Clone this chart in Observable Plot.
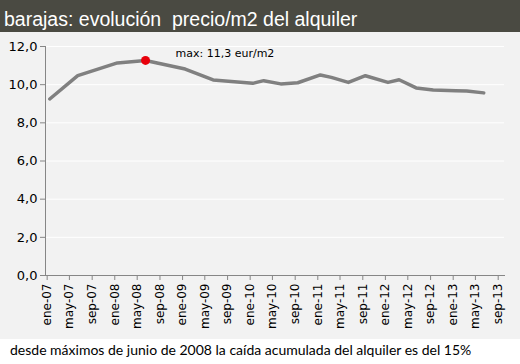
<!DOCTYPE html>
<html><head><meta charset="utf-8">
<script src="https://cdn.jsdelivr.net/npm/d3@7"></script>
<script src="https://cdn.jsdelivr.net/npm/@observablehq/plot@0.6"></script>
<style>
html,body{margin:0;padding:0;background:#fff;}
#wrap{width:520px;}
#title{background:#4a4a42;color:#fff;font-family:"Liberation Sans",Arial,sans-serif;font-size:19.5px;height:32px;line-height:26px;padding-top:6px;padding-left:4px;white-space:pre;box-sizing:border-box;}
#chart svg{display:block;}
#cap{font-family:Lato,sans-serif;font-size:14px;color:#000;padding-left:10px;height:26px;line-height:22px;box-sizing:border-box;padding-top:0px;overflow:visible;}
</style></head><body>
<div id="wrap">
<div id="title">barajas: evolución  precio/m2 del alquiler</div>
<div id="chart"></div>
<div id="cap">desde máximos de junio de 2008 la caída acumulada del alquiler es del 15%</div>
</div>
<script>
const months = ["2007-01","2007-06","2008-01","2008-06","2009-01","2009-06","2010-01","2010-03","2010-06","2010-09","2011-01","2011-03","2011-06","2011-09","2012-01","2012-03","2012-06","2012-09","2013-01","2013-03","2013-06"];
const prices = [9.25,10.47,11.14,11.27,10.82,10.25,10.07,10.21,10.04,10.10,10.51,10.38,10.12,10.47,10.12,10.26,9.83,9.72,9.68,9.67,9.57];
const tickMonths = ["2007-01","2007-05","2007-09","2008-01","2008-05","2008-09","2009-01","2009-05","2009-09","2010-01","2010-05","2010-09","2011-01","2011-05","2011-09","2012-01","2012-05","2012-09","2013-01","2013-05","2013-09"];
const tickLabels = ["ene-07","may-07","sep-07","ene-08","may-08","sep-08","ene-09","may-09","sep-09","ene-10","may-10","sep-10","ene-11","may-11","sep-11","ene-12","may-12","sep-12","ene-13","may-13","sep-13"];
const yTicks = [0,2,4,6,8,10,12];
const maxLabel = "max: 11,3 eur/m2";

const toDate = (s, day) => { const [y,m] = s.split("-").map(Number); return new Date(Date.UTC(y, m-1, day)); };
const data = months.map((m,i) => ({date: toDate(m,15), value: prices[i]}));
const maxPoint = data.filter(d => d.value === d3.max(prices));
const tickDates = tickMonths.map(m => toDate(m,1));
const labelOf = new Map(tickDates.map((d,i) => [+d, tickLabels[i]]));

const chart = Plot.plot({
  width: 520, height: 307,
  marginLeft: 45, marginRight: 16, marginTop: 14, marginBottom: 64,
  style: {background: "#f2f2f2", fontFamily: "DejaVu Sans, Verdana, sans-serif", color: "#000"},
  x: {type: "utc", domain: [new Date(Date.UTC(2006,11,23)), new Date(Date.UTC(2013,9,5))]},
  y: {domain: [0, 12]},
  marks: [
    Plot.gridY(yTicks.filter(d => d > 0), {stroke: "#ffffff", strokeOpacity: 1, strokeWidth: 1}),
    Plot.axisY({ticks: yTicks, tickFormat: d => d.toFixed(1).replace(".", ","), tickSize: 5, tickPadding: 3, fontSize: 13, label: null, stroke: "#868686"}),
    Plot.axisX({ticks: tickDates, tickFormat: d => labelOf.get(+d), tickRotate: -90, tickSize: 5, tickPadding: 3, fontSize: 12, label: null, stroke: "#868686"}),
    Plot.frame({anchor: "left", stroke: "#868686"}),
    Plot.frame({anchor: "bottom", stroke: "#868686"}),
    Plot.line(data, {x: "date", y: "value", stroke: "#808080", strokeWidth: 3.5}),
    Plot.dot(maxPoint, {x: "date", y: "value", fill: "#e8000b", r: 4.5}),
    Plot.text(maxPoint, {x: "date", y: "value", text: () => maxLabel, dx: 30, dy: -7, textAnchor: "start", fontSize: 11})
  ]
});
document.getElementById("chart").appendChild(chart);
</script>
</body></html>
